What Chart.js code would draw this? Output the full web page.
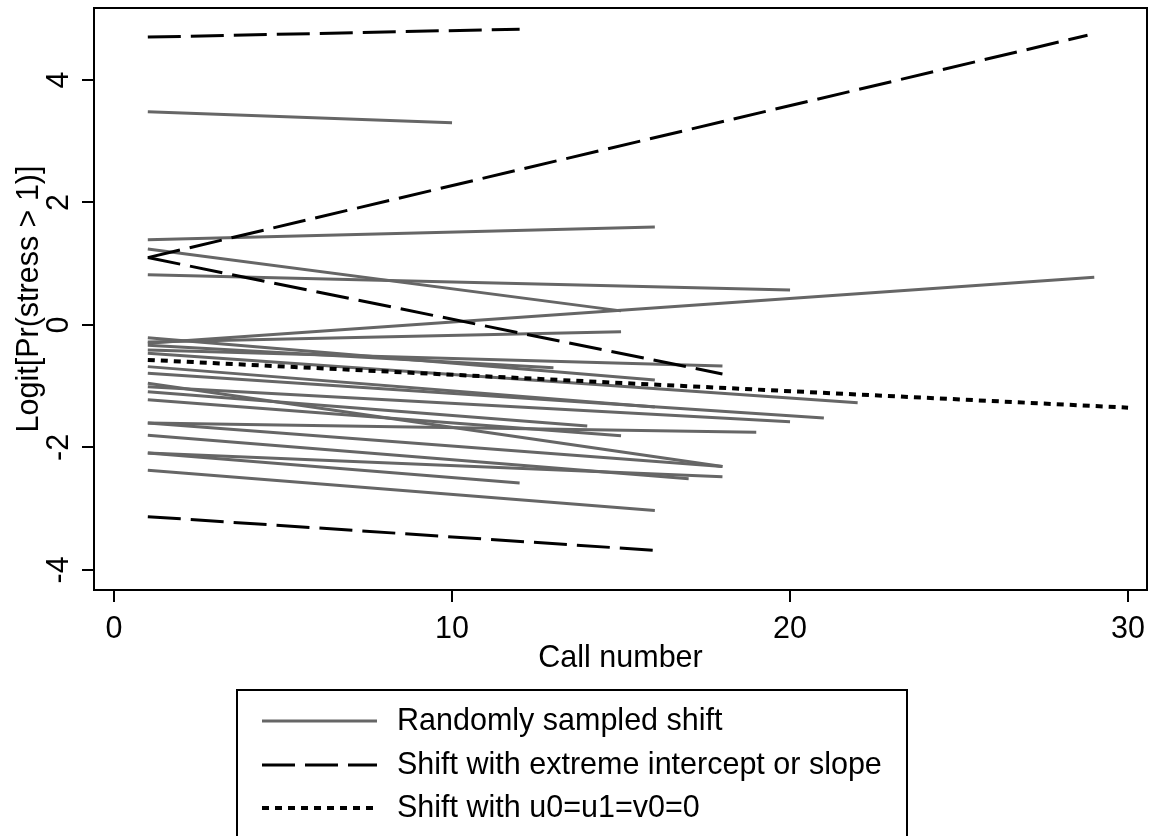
<!DOCTYPE html>
<html>
<head>
<meta charset="utf-8">
<script src="https://cdn.jsdelivr.net/npm/chart.js@4/dist/chart.umd.min.js"></script>
<style>
  html, body { margin: 0; padding: 0; background: #fff; }
  #wrap { width: 1153px; height: 836px; position: relative; }
</style>
</head>
<body>
<div id="wrap"><canvas id="c" width="1153" height="836"></canvas></div>
<script>
// ---- data ----
const startCall = 1;

// Randomly sampled shifts: value at call 1, last call number, value at last call
const grayStartY = [3.48, 1.39, 1.24, 0.82, -0.30, -0.28, -0.41, -0.33,
                    -0.21, -0.46, -0.68, -0.79, -1.01, -0.95, -1.09, -1.22,
                    -1.60, -1.60, -2.09, -1.80, -2.09, -2.37];
const grayEndX   = [10, 16, 15, 20, 29, 15, 18, 13,
                    16, 22, 16, 21, 20, 18, 14, 15,
                    19, 18, 18, 17, 12, 16];
const grayEndY   = [3.30, 1.60, 0.23, 0.57, 0.78, -0.11, -0.67, -0.70,
                    -0.90, -1.27, -1.34, -1.52, -1.58, -2.31, -1.65, -1.81,
                    -1.75, -2.31, -2.48, -2.51, -2.58, -3.03];

// Shifts with extreme intercept or slope
const extremeStartY = [4.70, 1.10, 1.10, -3.13];
const extremeEndX   = [12, 28.8, 18, 16];
const extremeEndY   = [4.83, 4.73, -0.80, -3.68];

// Shift with u0=u1=v0=0
const zeroStartY = [-0.57];
const zeroEndX   = [30];
const zeroEndY   = [-1.35];

const xTicks = [0, 10, 20, 30];
const yTicks = [-4, -2, 0, 2, 4];

const legendLabels = ['Randomly sampled shift',
                      'Shift with extreme intercept or slope',
                      'Shift with u0=u1=v0=0'];
const xTitle = 'Call number';
const yTitle = 'Logit[Pr(stress > 1)]';

// ---- styles ----
const GRAY = '#666666';
const styles = [
  { color: GRAY, width: 3, dash: [] },
  { color: '#000', width: 3, dash: [33, 10] },
  { color: '#000', width: 4, dash: [7, 6] }
];
const FS = 30.5;

function seg(y0, x1, y1) {
  return [{ x: startCall, y: y0 }, { x: x1, y: y1 }];
}

const datasets = [];
function addGroup(ys, xs, ye, st, order) {
  for (let i = 0; i < ys.length; i++) {
    datasets.push({
      data: seg(ys[i], xs[i], ye[i]),
      showLine: true,
      borderColor: st.color,
      borderWidth: st.width,
      borderDash: st.dash,
      borderCapStyle: 'butt',
      pointRadius: 0,
      pointHoverRadius: 0,
      fill: false,
      tension: 0,
      order: order
    });
  }
}
addGroup(grayStartY, grayEndX, grayEndY, styles[0], 2);
addGroup(extremeStartY, extremeEndX, extremeEndY, styles[1], 1);
addGroup(zeroStartY, zeroEndX, zeroEndY, styles[2], 0);

const FONT = 'Liberation Sans, Arial, Helvetica, sans-serif';
Chart.defaults.font.family = FONT;
Chart.defaults.color = '#000';

const framePlugin = {
  id: 'frame',
  afterDatasetsDraw(chart) {
    const a = chart.chartArea, ctx = chart.ctx;
    ctx.save();
    ctx.strokeStyle = '#000';
    ctx.lineWidth = 2;
    ctx.setLineDash([]);
    ctx.strokeRect(a.left, a.top, a.right - a.left, a.bottom - a.top);
    ctx.restore();
  }
};

const legendPlugin = {
  id: 'boxLegend',
  afterDraw(chart) {
    const ctx = chart.ctx;
    ctx.save();
    ctx.strokeStyle = '#000';
    ctx.lineWidth = 2;
    ctx.setLineDash([]);
    ctx.strokeRect(237, 690, 670, 170);
    const rowsY = [721, 765, 808];
    for (let i = 0; i < legendLabels.length; i++) {
      const st = styles[i];
      ctx.beginPath();
      ctx.strokeStyle = st.color;
      ctx.lineWidth = st.width;
      ctx.lineCap = 'butt';
      ctx.setLineDash(st.dash);
      ctx.moveTo(262, rowsY[i]);
      ctx.lineTo(377, rowsY[i]);
      ctx.stroke();
      ctx.setLineDash([]);
      ctx.fillStyle = '#000';
      ctx.font = FS + 'px ' + FONT;
      ctx.textAlign = 'left';
      ctx.textBaseline = 'middle';
      ctx.fillText(legendLabels[i], 397, rowsY[i] + 1);
    }
    ctx.restore();
  }
};

new Chart(document.getElementById('c'), {
  type: 'scatter',
  data: { datasets },
  options: {
    responsive: false,
    animation: false,
    layout: { padding: { left: 0, right: 6, top: 8, bottom: 146 } },
    plugins: { legend: { display: false }, tooltip: { enabled: false } },
    scales: {
      x: {
        type: 'linear',
        position: 'bottom',
        min: -0.592,
        max: 30.56,
        afterBuildTicks: s => { s.ticks = xTicks.map(v => ({ value: v })); },
        afterFit: s => { s.height = 100; s.paddingLeft = 0; s.paddingRight = 0; },
        ticks: { font: { size: FS }, color: '#000', padding: 9, autoSkip: false, maxRotation: 0 },
        grid: { drawOnChartArea: false, drawTicks: true, tickLength: 12, color: '#000', lineWidth: 2 },
        border: { display: false },
        title: { display: true, text: xTitle, font: { size: FS }, color: '#000', padding: { top: 0, bottom: 13 } }
      },
      y: {
        type: 'linear',
        position: 'left',
        min: -4.327,
        max: 5.175,
        afterBuildTicks: s => { s.ticks = yTicks.map(v => ({ value: v })); },
        afterFit: s => { s.width = 94; s.paddingTop = 0; s.paddingBottom = 0; },
        ticks: { font: { size: FS }, color: '#000', padding: 9, autoSkip: false,
                 minRotation: 90, maxRotation: 90, crossAlign: 'center' },
        grid: { drawOnChartArea: false, drawTicks: true, tickLength: 12, color: '#000', lineWidth: 2 },
        border: { display: false },
        title: { display: true, text: yTitle, font: { size: FS }, color: '#000', padding: { top: 11, bottom: 0 } }
      }
    }
  },
  plugins: [framePlugin, legendPlugin]
});
</script>
</body>
</html>
